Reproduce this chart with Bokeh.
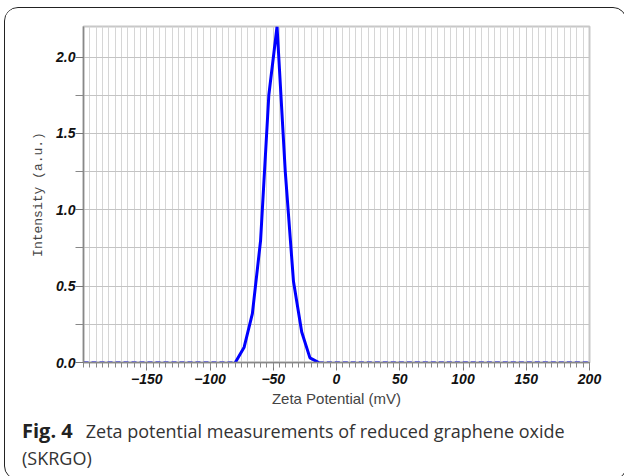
from bokeh.plotting import figure
from bokeh.models import Range1d, FixedTicker, CustomJSTickFormatter, Div
from bokeh.layouts import column
from bokeh.embed import file_html
from bokeh.resources import INLINE

# data
peak_x = [-80, -73, -66.5, -60, -53.5, -47, -40.5, -34, -27.5, -21, -14]
peak_y = [0.0, 0.10, 0.32, 0.80, 1.75, 2.20, 1.25, 0.53, 0.20, 0.03, 0.0]
base_left_x = [-200, -80]
base_left_y = [0.0, 0.0]
base_right_x = [-14, 200]
base_right_y = [0.0, 0.0]

x_ticks = [-150, -100, -50, 0, 50, 100, 150, 200]
x_minor = list(range(-200, 201, 5))
y_ticks = [0.0, 0.5, 1.0, 1.5, 2.0]
y_minor = [0.25, 0.75, 1.25, 1.75]

caption_bold = "Fig. 4"
caption_text = "Zeta potential measurements of reduced graphene oxide"
caption_line2 = "(SKRGO)"

W, H = 611, 404
p = figure(width=W, height=H, output_backend="svg", toolbar_location=None,
           x_range=Range1d(-200, 200), y_range=Range1d(0, 2.2),
           min_border_left=78, min_border_right=27, min_border_top=18,
           min_border_bottom=50)
p.background_fill_color = "white"
p.border_fill_color = "white"
p.outline_line_color = "#c8c8c8"
p.outline_line_width = 2

p.xaxis.ticker = FixedTicker(ticks=x_ticks, minor_ticks=x_minor)
p.yaxis.ticker = FixedTicker(ticks=y_ticks, minor_ticks=y_minor)
p.yaxis.formatter = CustomJSTickFormatter(code="return tick.toFixed(1);")

for ax in (p.xaxis[0], p.yaxis[0]):
    ax.axis_line_color = "#888888"
    ax.axis_line_width = 1.5
    ax.major_tick_line_color = "#777777"
    ax.minor_tick_line_color = "#888888"
    ax.major_tick_in = 0
    ax.minor_tick_in = 0
    ax.major_label_text_font = "Liberation Sans"
    ax.major_label_text_font_style = "bold italic"
    ax.major_label_text_font_size = "14px"
    ax.major_label_text_color = "#111111"

p.xaxis.major_tick_out = 8
p.xaxis.minor_tick_out = 5
p.yaxis.major_tick_out = 8
p.yaxis.minor_tick_out = 8
p.xaxis.major_label_standoff = 3
p.yaxis.major_label_standoff = 0

p.xaxis.axis_label = "Zeta Potential (mV)"
p.xaxis.axis_label_text_font = "Liberation Sans"
p.xaxis.axis_label_text_font_style = "normal"
p.xaxis.axis_label_text_font_size = "15px"
p.xaxis.axis_label_standoff = 3

p.yaxis.axis_label = "Intensity (a.u.)"
p.yaxis.axis_label_text_font = "Liberation Mono"
p.yaxis.axis_label_text_font_style = "normal"
p.yaxis.axis_label_text_font_size = "13px"
p.yaxis.axis_label_standoff = 7

p.xgrid.grid_line_color = "#cfcfcf"
p.xgrid.grid_line_width = 1
p.xgrid.minor_grid_line_color = "#d6d6d6"
p.xgrid.minor_grid_line_width = 1
p.ygrid.grid_line_color = "#c4c4c4"
p.ygrid.minor_grid_line_color = "#c4c4c4"

p.line(base_left_x, base_left_y, line_color="#0000ee", line_width=2, line_dash="5 3")
p.line(base_right_x, base_right_y, line_color="#0000ee", line_width=2, line_dash="5 3")
p.line(peak_x, peak_y, line_color="#0000ff", line_width=3)

cap = Div(text=(f"<b style='color:#222;font-size:20px;margin-right:13px'>{caption_bold}</b>"
                f"{caption_text}<br>{caption_line2}"),
          width=W, height=57,
          styles={"font-family": "'Open Sans', sans-serif", "font-size": "18px",
                  "line-height": "27px", "color": "#333", "padding-left": "12px",
                  "padding-top": "0px", "box-sizing": "border-box",
                  "background": "white", "white-space": "nowrap"})

layout = column(p, cap, spacing=0, margin=(7, 0, 0, 4),
                styles={"border": "1.5px solid #222", "border-radius": "14px",
                        "overflow": "hidden", "background": "white"})

open("out.html", "w").write(file_html(layout, INLINE))
